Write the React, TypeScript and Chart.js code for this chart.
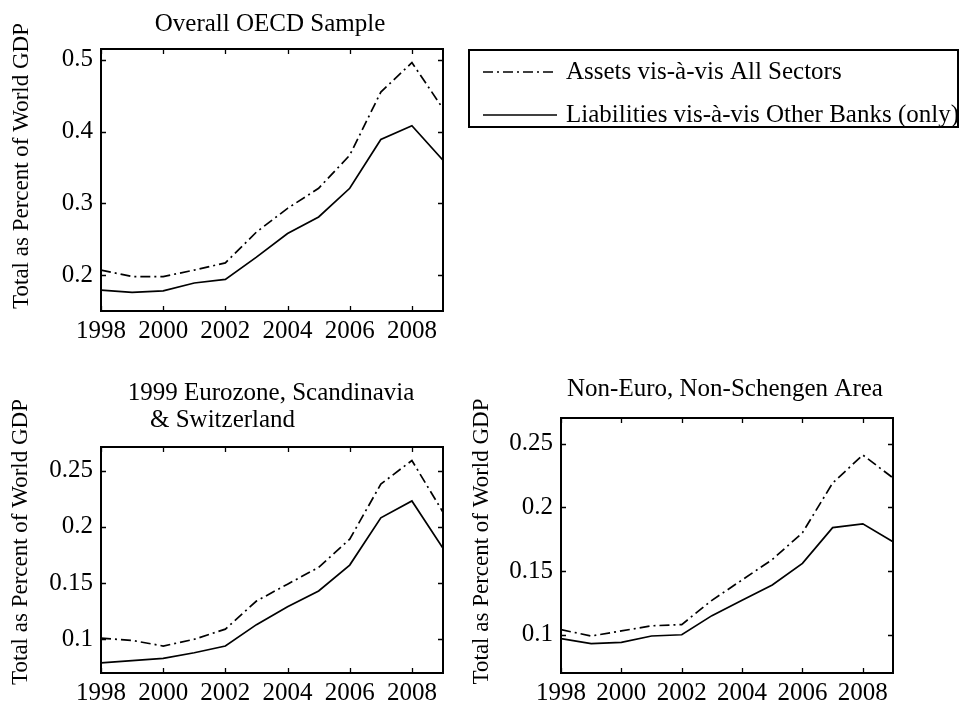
import React, { useEffect, useRef } from "react";
import { Chart, registerables } from "chart.js";

Chart.register(...registerables);

// ---------- data ----------
const years = [1998, 1999, 2000, 2001, 2002, 2003, 2004, 2005, 2006, 2007, 2008, 2009];
const xTickYears = [1998, 2000, 2002, 2004, 2006, 2008];

const seriesNames = ["Assets vis-à-vis All Sectors", "Liabilities vis-à-vis Other Banks (only)"];

const oecdAssets = [0.207, 0.198, 0.198, 0.207, 0.217, 0.26, 0.293, 0.321, 0.367, 0.455, 0.496, 0.432];
const oecdLiabilities = [0.179, 0.176, 0.178, 0.189, 0.194, 0.225, 0.258, 0.281, 0.321, 0.389, 0.408, 0.36];

const euroAssets = [0.101, 0.099, 0.094, 0.1, 0.109, 0.134, 0.149, 0.164, 0.189, 0.238, 0.259, 0.213];
const euroLiabilities = [0.079, 0.081, 0.083, 0.088, 0.094, 0.113, 0.129, 0.143, 0.166, 0.208, 0.223, 0.181];

const nonEuroAssets = [0.104, 0.099, 0.103, 0.107, 0.108, 0.127, 0.143, 0.159, 0.18, 0.219, 0.241, 0.223];
const nonEuroLiabilities = [0.097, 0.093, 0.094, 0.099, 0.1, 0.115, 0.127, 0.139, 0.156, 0.184, 0.187, 0.173];

const oecdYTicks = [0.2, 0.3, 0.4, 0.5];
const smallYTicks = [0.1, 0.15, 0.2, 0.25];

const yAxisLabel = "Total as Percent of World GDP";
const oecdTitle = ["Overall OECD Sample"];
const euroTitle = ["1999 Eurozone, Scandinavia", "& Switzerland"];
const nonEuroTitle = ["Non-Euro, Non-Schengen Area"];

// ---------- styling ----------
const FONT = '"Liberation Serif", "Times New Roman", serif';
const ASSET_DASH = [10, 4, 2, 4];

const framePlugin = {
  id: "matlabFrame",
  afterDatasetsDraw(chart: any, _args: any, opts: any) {
    const { ctx, chartArea: a, scales } = chart;
    ctx.save();
    ctx.strokeStyle = "#000";
    ctx.fillStyle = "#000";
    // inward ticks
    ctx.lineWidth = 1.3;
    const tl = 5;
    ctx.beginPath();
    scales.x.ticks.forEach((t: any) => {
      const px = Math.round(scales.x.getPixelForValue(t.value)) + 0.5;
      ctx.moveTo(px, a.bottom);
      ctx.lineTo(px, a.bottom - tl);
      ctx.moveTo(px, a.top);
      ctx.lineTo(px, a.top + tl);
    });
    scales.y.ticks.forEach((t: any) => {
      const py = Math.round(scales.y.getPixelForValue(t.value)) + 0.5;
      ctx.moveTo(a.left, py);
      ctx.lineTo(a.left + tl, py);
      ctx.moveTo(a.right, py);
      ctx.lineTo(a.right - tl, py);
    });
    ctx.stroke();
    // frame
    ctx.lineWidth = 2;
    ctx.strokeRect(a.left, a.top, a.right - a.left, a.bottom - a.top);

    // title
    ctx.font = `${opts.titleSize}px ${FONT}`;
    ctx.textBaseline = "alphabetic";
    (opts.title as string[]).forEach((line, i) => {
      const spec = opts.titleLines[i];
      if (spec.align === "center") {
        ctx.textAlign = "center";
        ctx.fillText(line, (a.left + a.right) / 2 + (spec.dx || 0), a.top + spec.dy);
      } else {
        ctx.textAlign = "left";
        ctx.fillText(line, a.left + spec.dx, a.top + spec.dy);
      }
    });

    // y label
    ctx.save();
    ctx.font = `${opts.yLabelSize}px ${FONT}`;
    ctx.translate(a.left + opts.yLabelDx, (a.top + a.bottom) / 2 + opts.yLabelDy);
    ctx.rotate(-Math.PI / 2);
    ctx.textAlign = "center";
    ctx.textBaseline = "middle";
    ctx.fillText(opts.yLabel, 0, 0);
    ctx.restore();

    // legend
    if (opts.legend) {
      const L = opts.legend;
      ctx.lineWidth = 2;
      ctx.strokeRect(L.x, L.y, L.w, L.h);
      ctx.font = `${L.fontSize}px ${FONT}`;
      ctx.textAlign = "left";
      ctx.textBaseline = "middle";
      chart.data.datasets.forEach((ds: any, i: number) => {
        const cy = L.y + L.rowY[i];
        ctx.save();
        ctx.lineWidth = ds.borderWidth;
        ctx.setLineDash(ds.borderDash || []);
        ctx.beginPath();
        ctx.moveTo(L.x + L.sampleX0, cy);
        ctx.lineTo(L.x + L.sampleX1, cy);
        ctx.stroke();
        ctx.restore();
        ctx.fillText(ds.label, L.x + L.textX, cy);
      });
    }
    ctx.restore();
  },
};

function makeConfig(
  assets: number[],
  liabilities: number[],
  yTicks: number[],
  yMin: number,
  yMax: number,
  padding: any,
  yW: number,
  xH: number,
  frame: any
) {
  const tickFont = { family: FONT, size: 25 };
  return {
    type: "line",
    data: {
      datasets: [
        {
          label: seriesNames[0],
          data: years.map((yr, i) => ({ x: yr, y: assets[i] })),
          borderColor: "#000",
          borderWidth: 1.7,
          borderDash: ASSET_DASH,
          pointRadius: 0,
          tension: 0,
          fill: false,
        },
        {
          label: seriesNames[1],
          data: years.map((yr, i) => ({ x: yr, y: liabilities[i] })),
          borderColor: "#000",
          borderWidth: 1.7,
          pointRadius: 0,
          tension: 0,
          fill: false,
        },
      ],
    },
    options: {
      responsive: false,
      animation: false,
      devicePixelRatio: 1,
      layout: { padding },
      plugins: {
        legend: { display: false },
        tooltip: { enabled: false },
        matlabFrame: frame,
      },
      scales: {
        x: {
          type: "linear",
          min: years[0],
          max: years[years.length - 1],
          grid: { display: false, drawTicks: false },
          border: { display: false },
          ticks: {
            font: tickFont,
            color: "#000",
            padding: 5,
            maxRotation: 0,
            autoSkip: false,
            callback: (v: number) => String(v),
          },
          afterBuildTicks: (s: any) => {
            s.ticks = xTickYears.map((v) => ({ value: v }));
          },
          afterFit: (s: any) => {
            s.height = xH;
          },
        },
        y: {
          type: "linear",
          min: yMin,
          max: yMax,
          grid: { display: false, drawTicks: false },
          border: { display: false },
          ticks: {
            font: tickFont,
            color: "#000",
            padding: 8,
            callback: (v: number) => String(Number(v.toFixed(3))),
          },
          afterBuildTicks: (s: any) => {
            s.ticks = yTicks.map((v) => ({ value: v }));
          },
          afterFit: (s: any) => {
            s.width = yW;
          },
        },
      },
    },
    plugins: [framePlugin],
  };
}

function ChartCanvas(props: { left: number; top: number; width: number; height: number; config: () => any }) {
  const ref = useRef<HTMLCanvasElement | null>(null);
  useEffect(() => {
    if (!ref.current) return;
    const chart = new Chart(ref.current, props.config());
    return () => chart.destroy();
  }, []);
  return (
    <canvas
      ref={ref}
      width={props.width}
      height={props.height}
      style={{ position: "absolute", left: props.left, top: props.top, width: props.width, height: props.height }}
    />
  );
}

export default function App() {
  return (
    <div style={{ position: "absolute", left: 0, top: 0, width: 959, height: 725, background: "#fff", overflow: "hidden" }}>
      <ChartCanvas
        left={0}
        top={0}
        width={959}
        height={350}
        config={() =>
          makeConfig(oecdAssets, oecdLiabilities, oecdYTicks, 0.15, 0.515, { left: 0, top: 49, right: 516, bottom: 0 }, 101, 39, {
            title: oecdTitle,
            titleSize: 25,
            titleLines: [{ align: "center", dx: -2, dy: -18 }],
            yLabel: yAxisLabel,
            yLabelSize: 23,
            yLabelDx: -79,
            yLabelDy: -14,
            legend: {
              x: 469,
              y: 50,
              w: 489,
              h: 77,
              fontSize: 25,
              rowY: [22, 65],
              sampleX0: 14,
              sampleX1: 88,
              textX: 97,
            },
          })
        }
      />
      <ChartCanvas
        left={0}
        top={350}
        width={470}
        height={375}
        config={() =>
          makeConfig(euroAssets, euroLiabilities, smallYTicks, 0.07, 0.271, { left: 0, top: 97, right: 27, bottom: 0 }, 101, 52, {
            title: euroTitle,
            titleSize: 25,
            titleLines: [
              { align: "center", dx: -1, dy: -47 },
              { align: "left", dx: 49, dy: -20 },
            ],
            yLabel: yAxisLabel,
            yLabelSize: 23,
            yLabelDx: -80,
            yLabelDy: -18,
          })
        }
      />
      <ChartCanvas
        left={450}
        top={350}
        width={509}
        height={375}
        config={() =>
          makeConfig(nonEuroAssets, nonEuroLiabilities, smallYTicks, 0.07, 0.27, { left: 0, top: 68, right: 66, bottom: 0 }, 111, 52, {
            title: nonEuroTitle,
            titleSize: 25,
            titleLines: [{ align: "center", dx: -2, dy: -22 }],
            yLabel: yAxisLabel,
            yLabelSize: 23,
            yLabelDx: -79,
            yLabelDy: -4,
          })
        }
      />
    </div>
  );
}
